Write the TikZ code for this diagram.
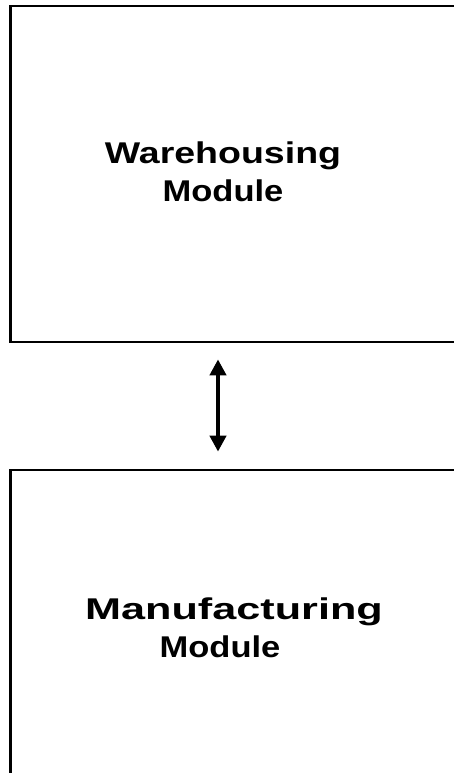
\documentclass[tikz,border=0pt]{standalone}
\usepackage{fontspec}
\usepackage{graphicx}
\usepackage{tikz}
\usetikzlibrary{arrows.meta, positioning}
\newfontfamily\modulefont{Liberation Sans}
\newcommand{\widen}[2]{\scalebox{#1}[1]{#2}}

\begin{document}
\begin{tikzpicture}[x=1pt, y=-1pt,
    modbox/.style={draw, line width=2.7pt, minimum width=459.7pt, inner sep=0pt},
    modtext/.style={font=\modulefont\bfseries\fontsize{30}{38.4}\selectfont, align=center, inner sep=0pt},
    linkarrow/.style={line width=4.5pt, {Triangle[length=16pt, width=16pt]}-{Triangle[length=16pt, width=16pt]}}]
    \useasboundingbox (0,0) rectangle (453,773);

    % Modules
    \node[modbox, minimum height=336pt] (warehouse) at (240.15,174) {};
    \node[modbox, minimum height=320pt] (manufacture) at (240.15,630) {};
    \node[modtext] (whText) at (223,172) {\widen{1.25}{Warehousing}\\\widen{1.15}{Module}};
    % first line sits a bit right of the second
    \node[modtext] (mfText) at (220,628) {\hspace*{28pt}\widen{1.44}{Manufacturing}\\\widen{1.15}{Module}};

    % Link between them
    \draw[linkarrow] ([yshift=-16pt]warehouse.south -| 218,0) -- ([yshift=17pt]manufacture.north -| 218,0);
\end{tikzpicture}
\end{document}
